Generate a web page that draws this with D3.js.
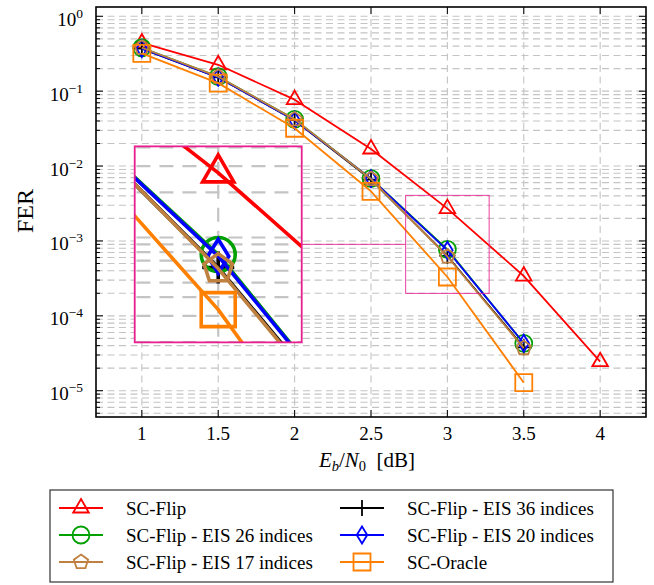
<!DOCTYPE html>
<html><head><meta charset="utf-8">
<script src="https://cdn.jsdelivr.net/npm/d3@7"></script>
<style>
html,body{margin:0;padding:0;background:#fff;}
svg{display:block;}
text{font-family:"Liberation Serif","Times New Roman",serif;}
</style></head>
<body>
<svg id="chart" width="654" height="585"></svg>
<script>
// ---- data ----
const ebn0 = [1, 1.5, 2, 2.5, 3, 3.5, 4];
const scFlip  = [0.44, 0.225, 0.077, 0.0169, 0.0027, 3.4e-4, 2.44e-5];
const eis36   = [0.37, 0.153, 0.041, 0.0066, 6.3e-4, 3.8e-5];
const eis26   = [0.38, 0.156, 0.042, 0.0068, 7.7e-4, 4.3e-5];
const eis20   = [0.37, 0.153, 0.041, 0.0068, 7.5e-4, 4.3e-5];
const eis17   = [0.38, 0.156, 0.042, 0.0067, 6.2e-4, 3.7e-5];
const oracle  = [0.32, 0.128, 0.032, 0.0046, 3.3e-4, 1.28e-5];
const xTicks = [1, 1.5, 2, 2.5, 3, 3.5, 4];
const yExps  = [0, -1, -2, -3, -4, -5];
const seriesNames = ["SC-Flip", "SC-Flip - EIS 36 indices", "SC-Flip - EIS 26 indices",
  "SC-Flip - EIS 20 indices", "SC-Flip - EIS 17 indices", "SC-Oracle"];
const seriesColors = ["#ff0000", "#000000", "#00a000", "#0000ff", "#bf8040", "#ff8000"];
const seriesMarks = ["triangle", "plus", "circle", "diamond", "pentagon", "square"];
const seriesValues = [scFlip, eis36, eis26, eis20, eis17, oracle];
const spyCenter = [3, 9e-4];
const lensCenter = [1.5, 9e-4];

// ---- layout ----
const L = 96, R = 646, T = 7, B = 417;
const svg = d3.select("#chart");
const x = d3.scaleLinear().domain([0.7, 4.3]).range([L, R]);
const y = d3.scaleLog().domain([Math.pow(10, -5.351), Math.pow(10, 0.124)]).range([B, T]);

function markPath(type, r) {
  switch (type) {
    case "triangle": return `M0,${-r}L${0.866*r},${0.5*r}L${-0.866*r},${0.5*r}Z`;
    case "circle": return `M${r},0A${r},${r} 0 1 1 ${-r},0A${r},${r} 0 1 1 ${r},0Z`;
    case "diamond": return `M0,${-r}L${0.62*r},0L0,${r}L${-0.62*r},0Z`;
    case "square": return `M${-r},${-r}H${r}V${r}H${-r}Z`;
    case "plus": return `M${-r},0H${r}M0,${-r}V${r}`;
    case "pentagon": {
      let p = "";
      for (let k = 0; k < 5; k++) {
        const a = (-90 + 72*k) * Math.PI/180;
        p += (k ? "L" : "M") + (r*Math.cos(a)).toFixed(2) + "," + (r*Math.sin(a)).toFixed(2);
      }
      return p + "Z";
    }
  }
}
const markSize = {triangle: 9, circle: 8.5, diamond: 8.5, square: 8.5, plus: 8, pentagon: 7.5};

const defs = svg.append("defs");
defs.append("clipPath").attr("id", "plotClip").append("rect")
  .attr("x", L).attr("y", T).attr("width", R - L).attr("height", B - T);

// content group (grid + series), reused for the magnified lens
const content = defs.append("g").attr("id", "plotContent");
const grid = content.append("g").attr("clip-path", "url(#plotClip)")
  .attr("stroke", "#c4c4c4").attr("stroke-width", 1.1).attr("stroke-dasharray", "7,4.5").attr("fill", "none");
// horizontal grid: majors and minors
const hLines = [];
for (let e = -6; e <= 0; e++) for (let m = 1; m <= 9; m++) {
  const v = m * Math.pow(10, e);
  if (v >= y.domain()[0] && v <= y.domain()[1]) hLines.push(v);
}
grid.selectAll("line.h").data(hLines).enter().append("line")
  .attr("x1", L).attr("x2", R).attr("y1", d => y(d)).attr("y2", d => y(d));
grid.selectAll("line.v").data(xTicks).enter().append("line")
  .attr("y1", B).attr("y2", T).attr("x1", d => x(d)).attr("x2", d => x(d));

const lineGen = d3.line().x(d => x(d[0])).y(d => y(d[1]));
seriesValues.forEach((vals, i) => {
  const pts = vals.map((v, j) => [ebn0[j], v]);
  const g = content.append("g");
  g.append("path").attr("d", lineGen(pts)).attr("fill", "none")
    .attr("stroke", seriesColors[i]).attr("stroke-width", 1.8).attr("stroke-linejoin", "round");
  g.selectAll("path.m").data(pts).enter().append("path")
    .attr("transform", d => `translate(${x(d[0])},${y(d[1])})`)
    .attr("d", markPath(seriesMarks[i], markSize[seriesMarks[i]]))
    .attr("fill", "none").attr("stroke", seriesColors[i]).attr("stroke-width", 1.8);
});

svg.append("use").attr("href", "#plotContent");

// ---- axes frame and ticks ----
const axG = svg.append("g").attr("stroke", "#000").attr("stroke-width", 1);
xTicks.forEach(t => {
  axG.append("line").attr("x1", x(t)).attr("x2", x(t)).attr("y1", B).attr("y2", B - 7);
  axG.append("line").attr("x1", x(t)).attr("x2", x(t)).attr("y1", T).attr("y2", T + 7);
});
hLines.forEach(v => {
  const isMajor = Math.abs(Math.log10(v) - Math.round(Math.log10(v))) < 1e-9;
  const len = isMajor ? 7 : 4;
  axG.append("line").attr("x1", L).attr("x2", L + len).attr("y1", y(v)).attr("y2", y(v));
  axG.append("line").attr("x1", R).attr("x2", R - len).attr("y1", y(v)).attr("y2", y(v));
});
svg.append("rect").attr("x", L).attr("y", T).attr("width", R - L).attr("height", B - T)
  .attr("fill", "none").attr("stroke", "#000").attr("stroke-width", 1.6);

// tick labels
svg.selectAll("text.xt").data(xTicks).enter().append("text")
  .attr("x", d => x(d)).attr("y", 440).attr("text-anchor", "middle")
  .attr("font-size", 19).text(d => d3.format("")(d));
yExps.forEach(e => {
  const t = svg.append("text").attr("x", L - 13).attr("y", y(Math.pow(10, e)) + 9.5)
    .attr("text-anchor", "end").attr("font-size", 19);
  t.append("tspan").text("10");
  t.append("tspan").attr("dy", -8).attr("font-size", 13.5).text(e === 0 ? "0" : "\u2212" + (-e));
});

// axis labels
svg.append("text").attr("transform", "translate(33,211) rotate(-90)")
  .attr("text-anchor", "middle").attr("font-size", 24).text("FER");
const xl = svg.append("text").attr("x", (L + R) / 2 - 4).attr("y", 467)
  .attr("text-anchor", "middle").attr("font-size", 21);
xl.append("tspan").attr("font-style", "italic").text("E");
xl.append("tspan").attr("font-style", "italic").attr("font-size", 14.5).attr("dy", 4).text("b");
xl.append("tspan").attr("dy", -4).text("/");
xl.append("tspan").attr("font-style", "italic").text("N");
xl.append("tspan").attr("font-size", 14.5).attr("dy", 4).text("0");
xl.append("tspan").attr("dy", -4).text("\u2002[dB]");

// ---- spy / lens ----
const mag = 2, spyW = 83.5, spyH = 98;
const sx = x(spyCenter[0]), sy = y(spyCenter[1]);
const lx = x(lensCenter[0]), ly = y(lensCenter[1]);
const pink = "#e8208f";
defs.append("clipPath").attr("id", "lensClip").append("rect")
  .attr("x", lx - spyW*mag/2).attr("y", ly - spyH*mag/2).attr("width", spyW*mag).attr("height", spyH*mag);
const lens = svg.append("g").attr("clip-path", "url(#lensClip)");
lens.append("rect").attr("x", lx - spyW*mag/2).attr("y", ly - spyH*mag/2)
  .attr("width", spyW*mag).attr("height", spyH*mag).attr("fill", "#fff");
lens.append("use").attr("href", "#plotContent")
  .attr("transform", `translate(${lx},${ly}) scale(${mag}) translate(${-sx},${-sy})`);
svg.append("rect").attr("x", lx - spyW*mag/2).attr("y", ly - spyH*mag/2)
  .attr("width", spyW*mag).attr("height", spyH*mag).attr("fill", "none")
  .attr("stroke", pink).attr("stroke-width", 1.8);
svg.append("rect").attr("x", sx - spyW/2).attr("y", sy - spyH/2).attr("width", spyW).attr("height", spyH)
  .attr("fill", "none").attr("stroke", pink).attr("stroke-width", 1).attr("stroke-opacity", 0.85);
svg.append("line").attr("x1", lx + spyW*mag/2).attr("x2", sx - spyW/2)
  .attr("y1", (ly + sy)/2).attr("y2", (ly + sy)/2)
  .attr("stroke", pink).attr("stroke-width", 1).attr("stroke-opacity", 0.85);

// ---- legend ----
const legX = 50, legY = 490, legW = 563, legH = 92;
svg.append("rect").attr("x", legX).attr("y", legY).attr("width", legW).attr("height", legH)
  .attr("fill", "#fff").attr("stroke", "#333").attr("stroke-width", 1.2);
const colX = [59, 340], rowY = [508, 535, 562];
seriesNames.forEach((name, i) => {
  const cx = colX[i % 2], cy = rowY[Math.floor(i / 2)];
  const g = svg.append("g");
  g.append("line").attr("x1", cx).attr("x2", cx + 44).attr("y1", cy).attr("y2", cy)
    .attr("stroke", seriesColors[i]).attr("stroke-width", 1.8);
  g.append("path").attr("transform", `translate(${cx + 22},${cy})`)
    .attr("d", markPath(seriesMarks[i], markSize[seriesMarks[i]]))
    .attr("fill", "none").attr("stroke", seriesColors[i]).attr("stroke-width", 1.8);
  g.append("text").attr("x", cx + 67).attr("y", cy + 6.5).attr("font-size", 19).text(name);
});
</script>
</body></html>
